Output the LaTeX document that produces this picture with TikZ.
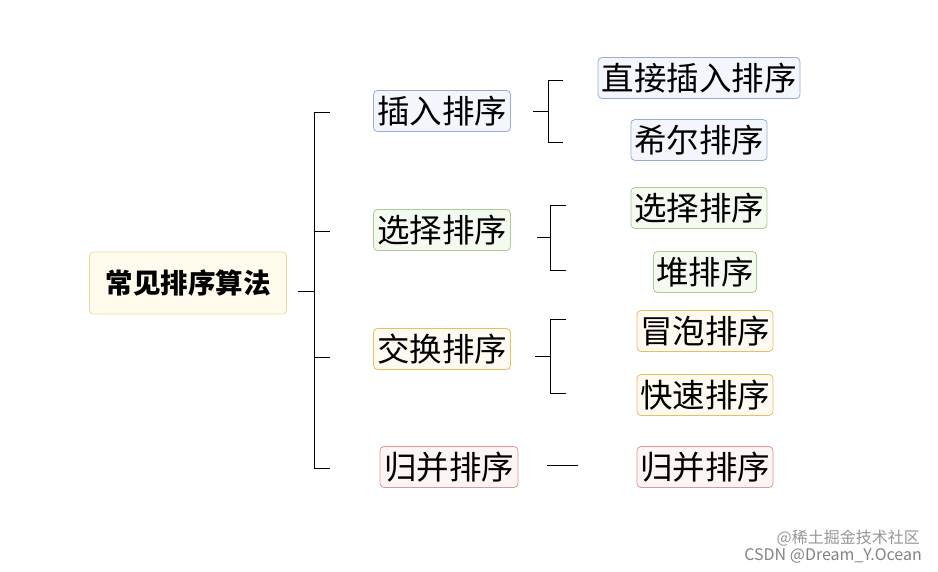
\documentclass[tikz,border=0pt]{standalone}
\usepackage{fontspec}
\setmainfont{Noto Sans CJK SC}
\begin{document}
\begin{tikzpicture}[x=1pt,y=-1pt,
  box/.style={rounded corners=4pt,line width=0.8pt,inner sep=0pt,minimum height=41pt,font=\fontsize{32.5}{32.5}\selectfont},
  bl/.style={box,draw={rgb,255:red,150;green,172;blue,216},fill={rgb,255:red,243;green,247;blue,253}},
  gr/.style={box,draw={rgb,255:red,170;green,205;blue,150},fill={rgb,255:red,244;green,250;blue,240}},
  og/.style={box,draw={rgb,255:red,230;green,190;blue,100},fill={rgb,255:red,255;green,250;blue,240}},
  rd/.style={box,draw={rgb,255:red,222;green,150;blue,150},fill={rgb,255:red,253;green,244;blue,244}},
  ln/.style={line width=1pt}]
\useasboundingbox (0,0) rectangle (938,571);
\node[box,draw={rgb,255:red,235;green,218;blue,160},fill={rgb,255:red,255;green,252;blue,238},minimum width=197pt,minimum height=62pt,font=\bfseries\fontsize{27.5}{27.5}\selectfont] (root) at (188,283) {常见排序算法};
\node[bl,minimum width=137pt] (a) at (442,111) {插入排序};
\node[gr,minimum width=137pt] (b) at (442,230) {选择排序};
\node[og,minimum width=137pt] (c) at (442,349) {交换排序};
\node[rd,minimum width=138pt] (d) at (449,467) {归并排序};
\node[bl,minimum width=202pt] (a1) at (699,78) {直接插入排序};
\node[bl,minimum width=136pt] (a2) at (699,140) {希尔排序};
\node[gr,minimum width=136pt] (b1) at (699,208) {选择排序};
\node[gr,minimum width=103pt] (b2) at (705,272) {堆排序};
\node[og,minimum width=136pt] (c1) at (705,331) {冒泡排序};
\node[og,minimum width=136pt] (c2) at (705,395) {快速排序};
\node[rd,minimum width=136pt] (d1) at (705,467) {归并排序};
\coordinate (m) at (314,291);
\draw[ln] (298,291) -- (m);
\draw[ln] (330,112) -- (314,112) -- (314,468) -- (330,468);
\draw[ln] (314,231) -- (330,231);
\draw[ln] (314,357) -- (330,357);
\draw[ln] (533,111) -- (548,111);
\draw[ln] (563,80) -- (548,80) -- (548,142) -- (563,142);
\draw[ln] (537,237) -- (550,237);
\draw[ln] (566,205) -- (550,205) -- (550,270) -- (566,270);
\draw[ln] (535,356) -- (550,356);
\draw[ln] (566,319) -- (550,319) -- (550,393) -- (566,393);
\draw[ln] (547,465) -- (578,465);
\node[text={rgb,255:red,150;green,150;blue,150},font=\fontsize{16}{16}\selectfont,anchor=east,inner sep=0pt] (w1) at (920,538) {@稀土掘金技术社区};
\node[text={rgb,255:red,130;green,130;blue,130},font=\fontsize{16}{16}\selectfont,anchor=east,inner sep=0pt] (w2) at (922,556) {CSDN @Dream\_Y.Ocean};
\end{tikzpicture}
\end{document}
